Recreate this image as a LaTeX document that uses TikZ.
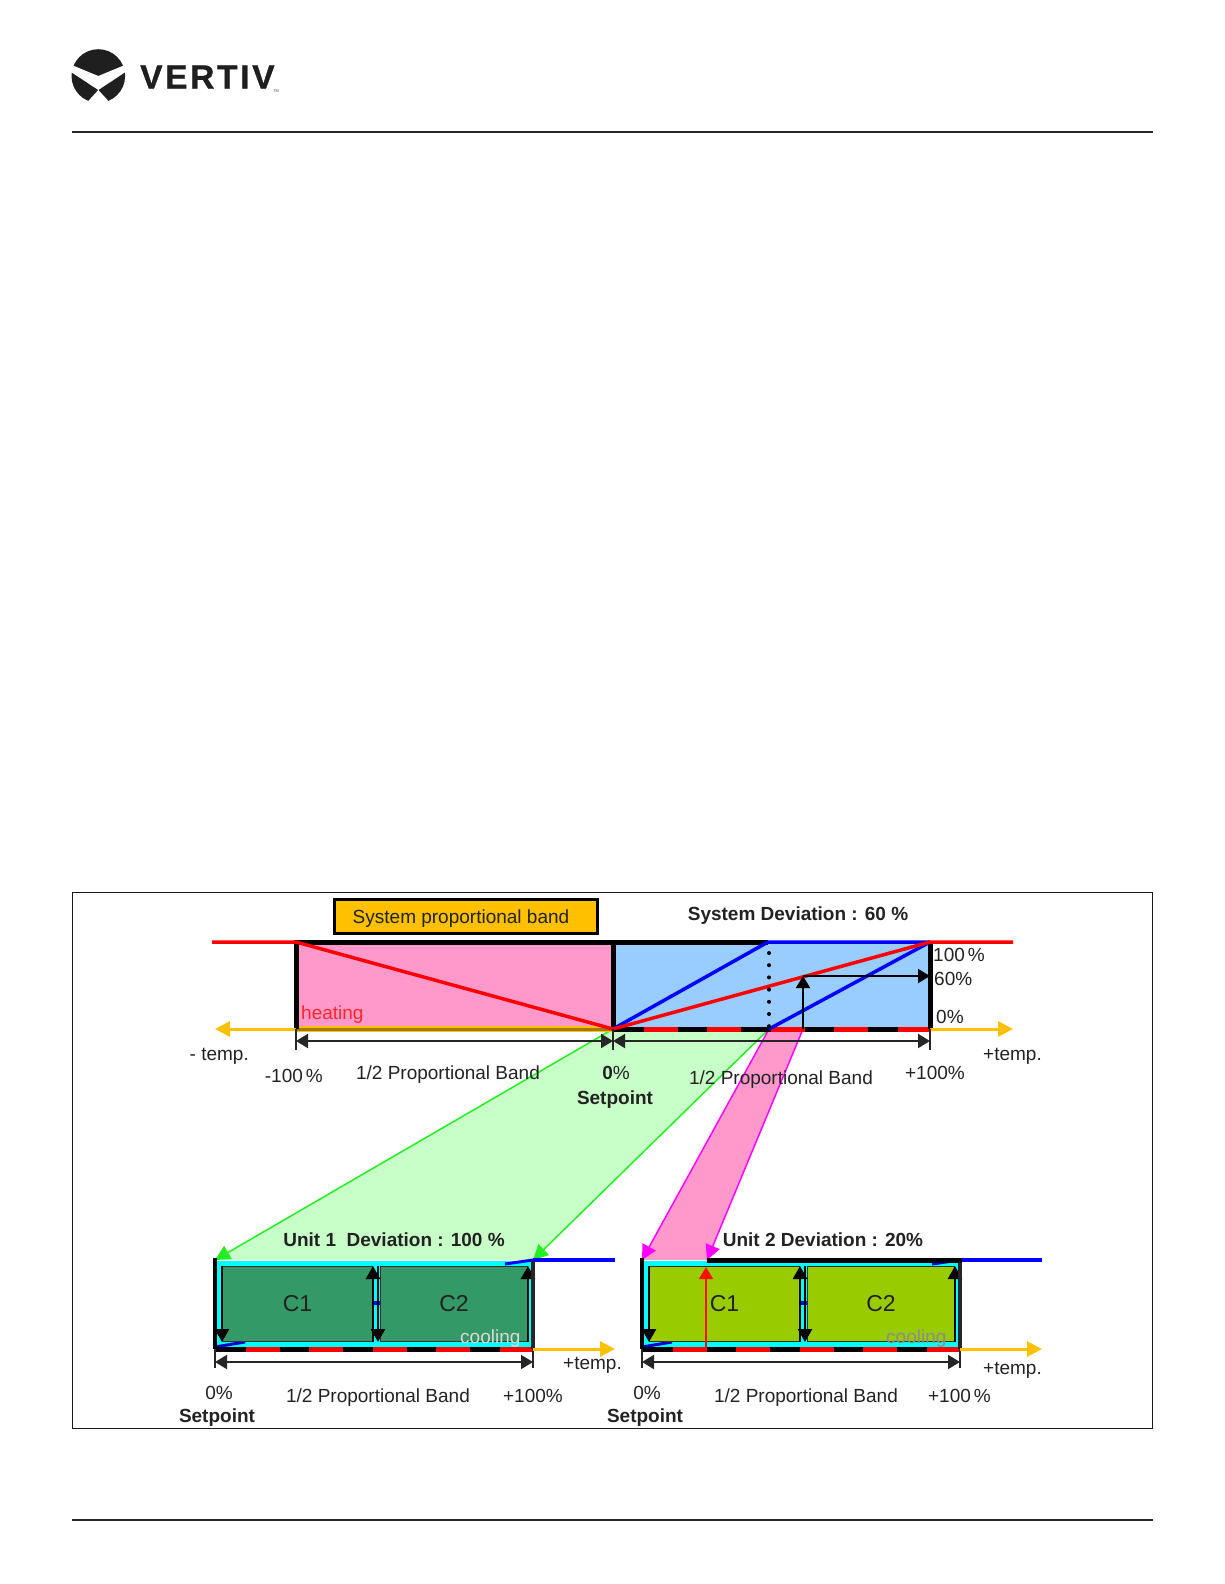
\documentclass[tikz,border=0pt]{standalone}
\usepackage{fontspec}
\setmainfont{Liberation Sans}
\newfontfamily\logofont[LetterSpace=8,FakeBold=1]{Liberation Sans}
\usetikzlibrary{arrows.meta,calc}
\definecolor{heatpink}{HTML}{FF99CC}
\definecolor{coolblue}{HTML}{99CCFF}
\definecolor{bandgold}{HTML}{FFC000}
\definecolor{bandbrown}{HTML}{A07A10}
\definecolor{flowgreen}{HTML}{C8FFC8}
\definecolor{edgegreen}{HTML}{22EE22}
\definecolor{edgepink}{HTML}{FF00FF}
\definecolor{unitcyan}{HTML}{00FFFF}
\definecolor{unitgreen}{HTML}{339966}
\definecolor{unitolive}{HTML}{99CC00}
\definecolor{txt}{HTML}{222222}

\begin{document}
\begin{tikzpicture}
 [
  x=1pt, y=-1pt,
  >={Triangle[length=12pt,width=14pt]},
  txtnode/.style   = {inner sep=0pt, text=txt, font=\fontsize{19}{19}\selectfont},
  boldnode/.style  = {txtnode, font=\fontsize{19}{19}\selectfont\bfseries},
  drop/.style      = {yshift=-2pt},
  heavy/.style     = {draw=black, line width=5pt},
  dim/.style       = {<->, draw=black!85, line width=2pt},
  tick/.style      = {draw=black!85, line width=1.5pt},
  redline/.style   = {draw=red, line width=3.5pt},
  blueline/.style  = {draw=blue, line width=3.5pt},
  goldarrow/.style = {-{Triangle[length=15pt,width=15pt]}, draw=bandgold, line width=3pt},
  reddash/.style   = {draw=red, line width=5pt, dash pattern=on 34pt off 29.5pt, dash phase=33pt},
  flowedge/.style  = {-{Triangle[length=15pt,width=15pt]}, line width=1.5pt},
  unitarrow/.style = {-{Triangle[length=13pt,width=14pt]}, draw=black, line width=2.5pt},
 ]
 \useasboundingbox (0,0) rectangle (1224,1584);

 % page furniture
 \draw[line width=1.2pt, draw=black!85] (72,132) -- (1152.5,132);
 \draw[line width=1.5pt, draw=black!85] (72,1520) -- (1152.5,1520);
 \fill[black!88] (98.3,76) circle (26.8);
 \fill[white] (68,63.5) -- (98.3,76) -- (128.5,63.5) -- (128.5,70) -- (98.3,90)
   -- (110.7,103.5) -- (86,103.5) -- (98.3,90) -- (68,70) -- cycle;
 \node[anchor=west, inner sep=0pt, text=black!88] (vertiv) at (140,77)
   {\logofont\fontsize{33.5}{33.5}\selectfont\bfseries VERTIV};
 \node[inner sep=0pt, text=black!70, font=\fontsize{4}{4}\selectfont] (tm) at (276,91) {TM};

 \draw[line width=1pt, draw=black!90] (72,892) rectangle (1152.5,1428);

 % main band corners
 \coordinate (hl) at (296,942);
 \coordinate (hb) at (296,1029);
 \coordinate (mt) at (613,942);
 \coordinate (mb) at (613,1029);
 \coordinate (rt) at (930,942);
 \coordinate (rb) at (930,1029);
 \coordinate (bt) at (768,942);
 \coordinate (bb) at (769,1029);
 \coordinate (vb) at (803,1029);
 \coordinate (vm) at (803,976);
 \coordinate (vr) at (930,976);

 % unit corners
 \coordinate (u1tl) at (215,1260);
 \coordinate (u1tr) at (533,1260);
 \coordinate (u2tl) at (642,1260);
 \coordinate (u2ta) at (707,1260);
 \coordinate (u2tr) at (962,1260);

 % flows from system band to units
 \fill[flowgreen] (mb) -- (u1tl) -- (u1tr) -- (bb) -- cycle;
 \fill[heatpink] (bb) -- (u2tl) -- (u2ta) -- (vb) -- cycle;
 \draw[flowedge, edgegreen] (mb) -- (u1tl);
 \draw[flowedge, edgegreen] (bb) -- (u1tr);
 \draw[flowedge, edgepink] (bb) -- (u2tl);
 \draw[flowedge, edgepink] (vb) -- (u2ta);

 % system band
 \fill[heatpink] (hl) rectangle (mb);
 \fill[coolblue] (mt) rectangle (rb);
 \draw[line width=6pt, draw=bandgold] (hb) -- (mb);
 \draw[line width=3pt, draw=bandbrown] (hb) -- (mb);
 \draw[line width=5pt, draw=black] (mb) -- (rb);
 \draw[reddash] (mb) -- (rb);
 \draw[heavy] ($(hl)+(-2.5,0)$) -- (bt);
 \draw[heavy] (hl) -- (hb);
 \draw[heavy] (mt) -- (mb);
 \draw[heavy] (rt) -- (rb);
 \draw[goldarrow] (hb) -- (215,1029) coordinate (gl);
 \draw[goldarrow] (rb) -- (1013,1029) coordinate (gr);
 \draw[blueline] (mb) -- (bt) -- (rt);
 \draw[blueline] (bb) -- (rt);
 \draw[redline] (212,942) coordinate (rl) -- (hl) -- (mb) -- (rt) -- (1013,942) coordinate (rr);
 \draw[line width=4pt, line cap=round, dash pattern=on 0pt off 12.2pt] (769,953) -- (769,1028);
 \draw[line width=1.8pt, ->] (vb) -- (vm);
 \draw[line width=1.8pt, ->] (vm) -- (vr);
 \draw[tick] (hb) -- (296,1050);
 \draw[tick] (mb) -- (613,1050);
 \draw[tick] (rb) -- (930,1050);
 \draw[dim] (296,1041) -- (613,1041);
 \draw[dim] (613,1041) -- (930,1041);

 % both units
 \foreach \s/\ox/\fcol in {1/0/unitgreen, 2/427/unitolive}
 {
  \begin{scope}[xshift=\ox pt]
   \fill[unitcyan] (215,1261) rectangle (533,1348);
   \draw[blue!80!black, line width=3pt] (215,1347) -- (245,1342);
   \draw[blue, line width=3pt] (505,1264) -- (533,1260);
   \draw[blue, line width=4pt] (372,1303) -- (380,1303);
   \node[draw=black!80, line width=1pt, fill=\fcol, minimum width=150pt, minimum height=75pt, inner sep=0pt, anchor=north west] (c1\s) at (222,1266) {};
   \node[draw=black!80, line width=1pt, fill=\fcol, minimum width=147pt, minimum height=75pt, inner sep=0pt, anchor=north west] (c2\s) at (380,1266) {};
   \draw[unitarrow] (c1\s.north west) -- (c1\s.south west);
   \draw[unitarrow] (c1\s.south east) -- (c1\s.north east);
   \draw[unitarrow] ($(c2\s.north west)+(-2,0)$) -- ($(c2\s.south west)+(-2,0)$);
   \draw[unitarrow] (c2\s.south east) -- (c2\s.north east);
   \draw[line width=5pt] (215,1349) -- (533,1349);
   \draw[reddash] (215,1349) -- (533,1349);
   \draw[line width=4pt] (215,1258) -- (215,1349);
   \draw[line width=4pt, draw=black!85] (533,1260) -- (533,1349);
   \draw[tick] (215,1349) -- (215,1368);
   \draw[tick] (533,1349) -- (533,1368);
   \draw[dim] (215,1362) -- (533,1362);
   \draw[goldarrow] (533,1349) -- (615,1349);
   \draw[blueline] (533,1260) -- (615,1260);
   \node[font=\fontsize{23}{23}\selectfont, inner sep=0pt, text=txt] (c1l\s) at (c1\s) {C1};
   \node[font=\fontsize{23}{23}\selectfont, inner sep=0pt, text=txt] (c2l\s) at (c2\s) {C2};
  \end{scope}
 }
 \draw[line width=5pt] (u2ta) -- (u2tr);
 \draw[->, line width=1.5pt, draw=red!90!orange] (706,1349) -- (706,1267);

 % labels
 \node[draw=black, line width=3pt, fill=bandgold, minimum width=263pt, minimum height=34pt, inner sep=0pt] (prop) at (465.5,916) {};
 \node[txtnode, drop] (propl) at (461,917) {System proportional band};
 \node[boldnode, drop] (sysdev) at (798,914) {System Deviation : 60 \%};
 \node[txtnode, anchor=west] (p100) at (933,955) {100\hspace{3pt}\%};
 \node[txtnode, anchor=west] (p60) at (934,979) {60\%};
 \node[txtnode, anchor=west] (p0) at (936,1017) {0\%};
 \node[txtnode, drop, anchor=east] (tplus) at (1042,1054) {+temp.};
 \node[txtnode, drop, anchor=east] (tminus) at (249,1054) {- temp.};
 \node[txtnode, anchor=east] (m100) at (323,1076) {-100\hspace{3pt}\%};
 \node[txtnode, drop] (hband) at (448,1073) {1/2 Proportional Band};
 \node[txtnode, drop, text=red!80!pink, anchor=west] (heat) at (301,1013) {heating};
 \node[txtnode] (s0) at (616,1073) {\textbf{0}\%};
 \node[boldnode, drop] (sset) at (615,1098) {Setpoint};
 \node[txtnode, drop] (cband) at (781,1078) {1/2 Proportional Band};
 \node[txtnode, anchor=east] (r100) at (965,1073) {+100\%};

 \node[boldnode] (u1dev) at (394,1240) {Unit 1 ~Deviation : 100 \%};
 \node[txtnode, drop, text=black!15, anchor=west] (u1cool) at (460,1337) {cooling};
 \node[txtnode, drop, anchor=east] (u1temp) at (622,1363) {+temp.};
 \node[txtnode] (u1zero) at (219,1393) {0\%};
 \node[boldnode, drop] (u1set) at (217,1416) {Setpoint};
 \node[txtnode, drop] (u1band) at (378,1396) {1/2 Proportional Band};
 \node[txtnode, anchor=east] (u1top) at (563,1396) {+100\%};

 \node[boldnode] (u2dev) at (823,1240) {Unit 2 Deviation : 20\%};
 \node[txtnode, drop, text=black!45, anchor=west] (u2cool) at (886,1337) {cooling};
 \node[txtnode, drop, anchor=east] (u2temp) at (1042,1368) {+temp.};
 \node[txtnode] (u2zero) at (647,1393) {0\%};
 \node[boldnode, drop] (u2set) at (645,1416) {Setpoint};
 \node[txtnode, drop] (u2band) at (806,1396) {1/2 Proportional Band};
 \node[txtnode, anchor=east] (u2top) at (991,1396) {+100\hspace{3pt}\%};
\end{tikzpicture}
\end{document}
